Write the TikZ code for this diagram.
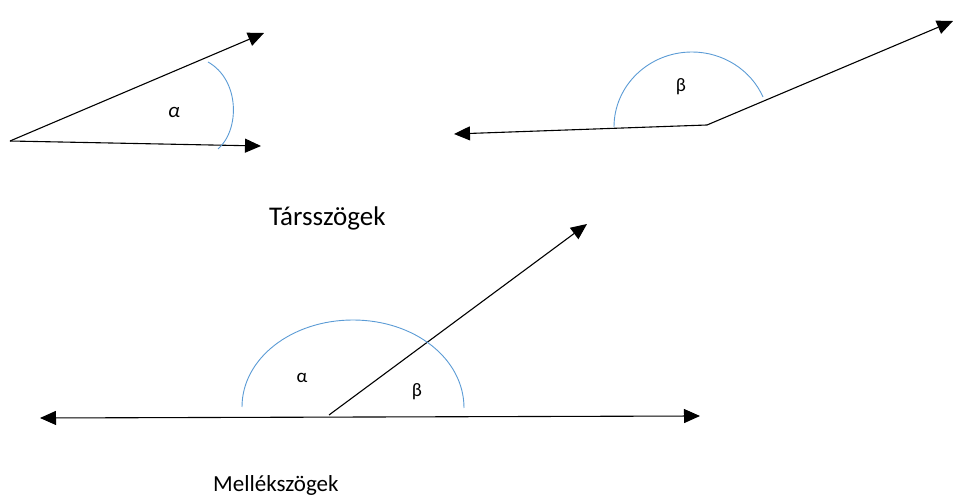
\documentclass[tikz,border=0pt]{standalone}
\usepackage{fontspec}
\setmainfont{Carlito}
\usetikzlibrary{arrows.meta}
\begin{document}
\begin{tikzpicture}[x=1pt,y=-1pt,
  tip/.style={Triangle[length=16pt,width=14pt]},
  ray/.style={line width=1.1pt,-{Triangle[length=16pt,width=14pt]}},
  bray/.style={line width=1.1pt,{Triangle[length=16pt,width=14pt]}-{Triangle[length=16pt,width=14pt]}},
  anglearc/.style={draw={rgb,255:red,91;green,155;blue,213},line width=0.9pt},
  caption/.style={inner sep=0pt,anchor=base west},
  lbl/.style={inner sep=0pt,font=\fontsize{19}{22}\selectfont}]
\useasboundingbox (0,0) rectangle (954,502);
% first angle
\coordinate (A0) at (10,141);
\coordinate (A1) at (264,33);
\coordinate (A2) at (261,146);
\draw[ray] (A0) -- (A1);
\draw[ray] (A0) -- (A2);
\draw[anglearc] (208,62) .. controls (240,80) and (240,130) .. (218,149);
\node[lbl,font=\fontsize{21}{24}\selectfont\itshape] (alpha1) at (174,112) {α};
% second angle
\coordinate (B0) at (707,125);
\coordinate (B1) at (454,134);
\coordinate (B2) at (953,21);
\draw[ray] (B0) -- (B1);
\draw[ray] (B0) -- (B2);
\draw[anglearc] (614,127) .. controls (614,85.6) and (648.9,52) .. (692,52)
  .. controls (723,52) and (751,70) .. (763,97);
\node[lbl] (beta1) at (681,87) {β};
% caption 1
\node[caption,font=\fontsize{27}{32}\selectfont] (cap1) at (269,226) {Társszögek};
% third
\coordinate (C0) at (329,415);
\coordinate (CL) at (40,418);
\coordinate (CR) at (700,416);
\coordinate (C1) at (587,224);
\draw[bray] (CL) -- (CR);
\draw[ray] (C0) -- (C1);
\draw[anglearc] (242,407) .. controls (242,358.4) and (291.7,320) .. (353,320)
  .. controls (414.3,320) and (464,358.4) .. (464,408);
\node[lbl] (alpha2) at (302,378) {α};
\node[lbl] (beta2) at (417,392) {β};
\node[caption,font=\fontsize{23}{27}\selectfont] (cap2) at (213,492) {Mellékszögek};
\end{tikzpicture}
\end{document}
